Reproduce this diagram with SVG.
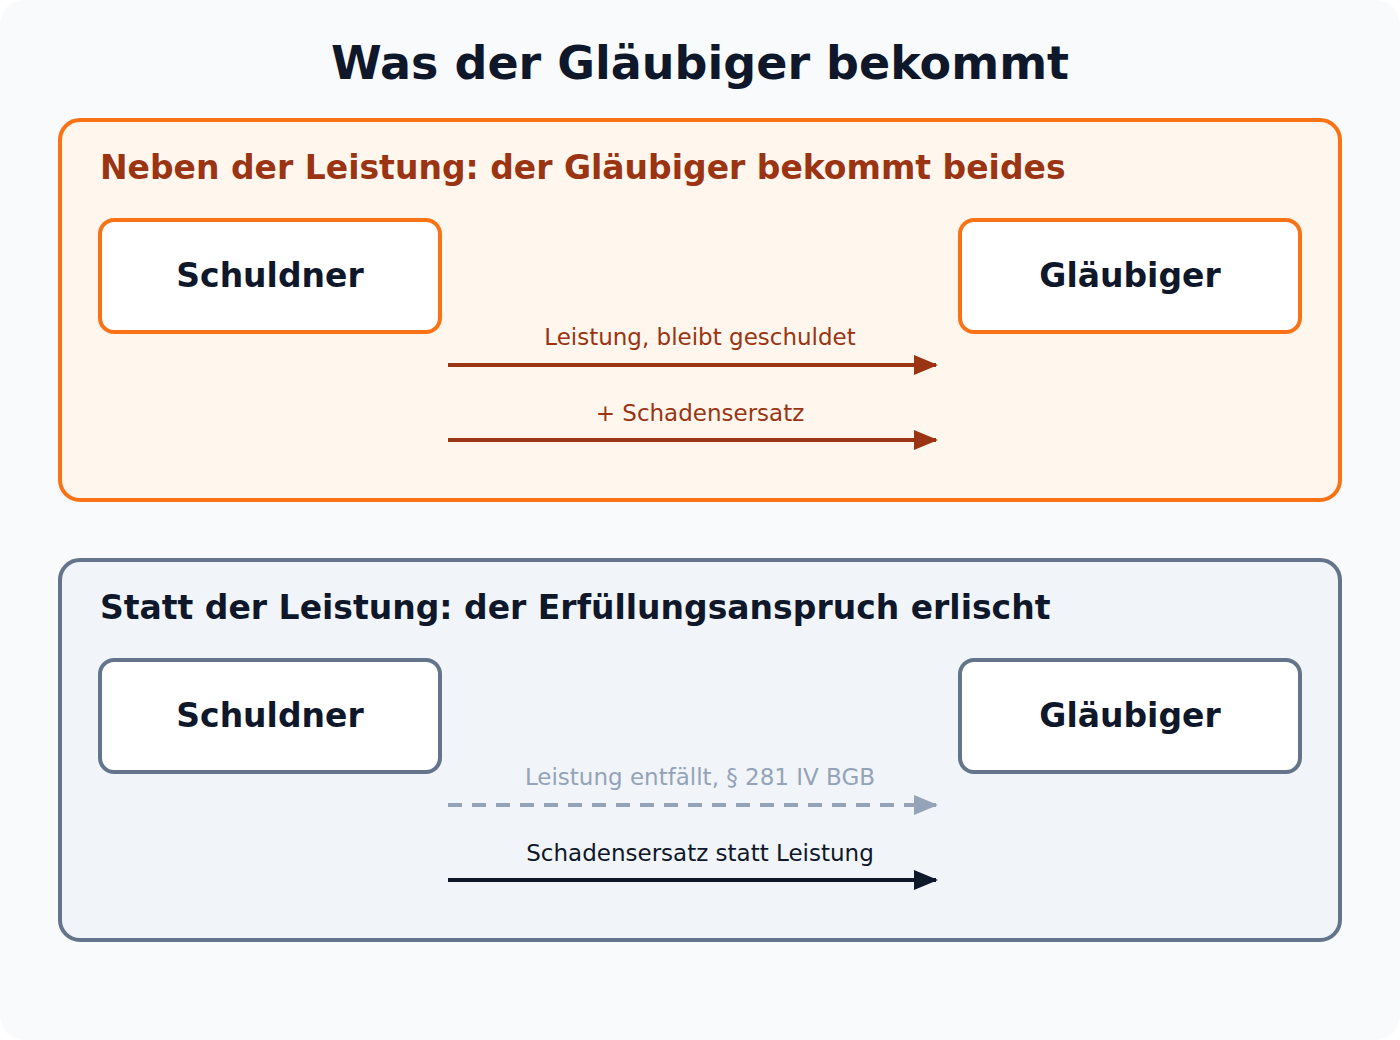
<svg xmlns="http://www.w3.org/2000/svg" width="1400" height="1040" viewBox="0 0 1400 1040">
<style>
text{font-family:"DejaVu Sans",sans-serif}
.h{font-size:33px;font-weight:bold}
.n{font-size:33px;font-weight:bold;fill:#0f172a;text-anchor:middle}
.l{font-size:23px;text-anchor:middle}
.box{fill:#fff;stroke-width:4}
</style>
<defs>
<marker id="mo" markerWidth="6" markerHeight="5" refX="5.5" refY="2.5" orient="auto" markerUnits="strokeWidth"><path d="M0,0L6,2.5L0,5z" fill="#9a3412"/></marker>
<marker id="mg" markerWidth="6" markerHeight="5" refX="5.5" refY="2.5" orient="auto" markerUnits="strokeWidth"><path d="M0,0L6,2.5L0,5z" fill="#94a3b8"/></marker>
<marker id="mk" markerWidth="6" markerHeight="5" refX="5.5" refY="2.5" orient="auto" markerUnits="strokeWidth"><path d="M0,0L6,2.5L0,5z" fill="#0f172a"/></marker>
</defs>
<rect width="1400" height="1040" rx="24" fill="#f8fafc"/>
<text x="700" y="79" text-anchor="middle" font-size="46" font-weight="bold" fill="#0f172a">Was der Gläubiger bekommt</text>
<g id="panel1">
<rect x="60" y="120" width="1280" height="380" rx="20" fill="#fff7ed" stroke="#f97316" stroke-width="4"/>
<text x="100" y="179" class="h" fill="#9a3412">Neben der Leistung: der Gläubiger bekommt beides</text>
</g>
<g id="schuldner1"><rect x="100" y="220" width="340" height="112" rx="14" class="box" stroke="#f97316"/><text x="270" y="287" class="n">Schuldner</text></g>
<g id="glaeubiger1"><rect x="960" y="220" width="340" height="112" rx="14" class="box" stroke="#f97316"/><text x="1130" y="287" class="n">Gläubiger</text></g>
<g id="panel2">
<rect x="60" y="560" width="1280" height="380" rx="20" fill="#f1f5f9" stroke="#64748b" stroke-width="4"/>
<text x="100" y="619" class="h" fill="#0f172a">Statt der Leistung: der Erfüllungsanspruch erlischt</text>
</g>
<g id="schuldner2"><rect x="100" y="660" width="340" height="112" rx="14" class="box" stroke="#64748b"/><text x="270" y="727" class="n">Schuldner</text></g>
<g id="glaeubiger2"><rect x="960" y="660" width="340" height="112" rx="14" class="box" stroke="#64748b"/><text x="1130" y="727" class="n">Gläubiger</text></g>
<g id="connectors" stroke-width="4" fill="none">
<line x1="448" y1="365" x2="936" y2="365" stroke="#9a3412" marker-end="url(#mo)"/>
<line x1="448" y1="440" x2="936" y2="440" stroke="#9a3412" marker-end="url(#mo)"/>
<line x1="448" y1="805" x2="936" y2="805" stroke="#94a3b8" stroke-dasharray="14 10" marker-end="url(#mg)"/>
<line x1="448" y1="880" x2="936" y2="880" stroke="#0f172a" marker-end="url(#mk)"/>
</g>
<text x="700" y="345" class="l" fill="#9a3412">Leistung, bleibt geschuldet</text>
<text x="700" y="421" class="l" fill="#9a3412">+ Schadensersatz</text>
<text x="700" y="785" class="l" fill="#94a3b8">Leistung entfällt, § 281 IV BGB</text>
<text x="700" y="861" class="l" fill="#0f172a">Schadensersatz statt Leistung</text>
</svg>
